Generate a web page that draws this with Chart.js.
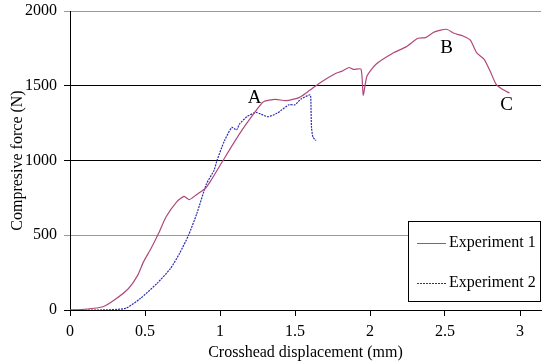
<!DOCTYPE html>
<html>
<head>
<meta charset="utf-8">
<script src="https://cdn.jsdelivr.net/npm/chart.js@4/dist/chart.umd.min.js"></script>
<style>
  html, body { margin: 0; padding: 0; background: #fff; }
  #wrap { width: 542px; height: 363px; }
</style>
</head>
<body>
<div id="wrap"><canvas id="forceChart" width="542" height="363"></canvas></div>
<script>
// crosshead displacement (mm) and compressive force (N)
const exp1X = [0, 0.1, 0.22, 0.3, 0.39, 0.45, 0.49, 0.54, 0.59, 0.64, 0.71, 0.76, 0.795, 0.845, 0.9, 0.94,
  1.02, 1.13, 1.24, 1.29, 1.37, 1.44, 1.53, 1.6, 1.67, 1.77, 1.81, 1.86, 1.89, 1.94, 1.955, 1.98,
  2.04, 2.16, 2.24, 2.32, 2.37, 2.43, 2.51, 2.56, 2.62, 2.67, 2.71, 2.76, 2.8, 2.84, 2.88, 2.93];
const exp1Y = [0, 5, 22, 70, 144, 230, 322, 411, 511, 622, 722, 760, 738, 773, 811, 867,
  1000, 1178, 1333, 1393, 1409, 1400, 1422, 1471, 1522, 1582, 1596, 1622, 1609, 1611, 1438, 1565,
  1644, 1722, 1760, 1818, 1822, 1860, 1878, 1851, 1833, 1804, 1722, 1678, 1600, 1511, 1478, 1451];

const exp2X = [0, 0.2, 0.37, 0.47, 0.58, 0.67, 0.73, 0.79, 0.845, 0.91, 0.96, 0.98, 1.03, 1.08, 1.11,
  1.13, 1.18, 1.24, 1.27, 1.32, 1.38, 1.46, 1.5, 1.54, 1.6, 1.605, 1.61, 1.62, 1.64];
const exp2Y = [0, 0, 11, 78, 178, 278, 378, 500, 644, 844, 933, 1000, 1133, 1222, 1204,
  1244, 1293, 1322, 1311, 1293, 1316, 1373, 1373, 1411, 1440, 1422, 1222, 1156, 1133];

const seriesNames = ['Experiment 1', 'Experiment 2'];
const xTicks = [0, 0.5, 1, 1.5, 2, 2.5, 3];
const yTicks = [0, 500, 1000, 1500, 2000];
const pointLabels = [
  { text: 'A', x: 1.23, y: 1420 },
  { text: 'B', x: 2.51, y: 1755 },
  { text: 'C', x: 2.91, y: 1370 }
];

const RED = '#b0487a';
const BLUE = '#2c2cb0';
const SERIF = '"Liberation Serif", "Times New Roman", serif';

const toPoints = (xs, ys) => xs.map((x, i) => ({ x: x, y: ys[i] }));

// A, B, C labels + legend box inside the plot
const overlay = {
  id: 'overlay',
  afterDatasetsDraw(chart) {
    const ctx = chart.ctx;
    const xs = chart.scales.x, ys = chart.scales.y;
    ctx.save();
    ctx.fillStyle = '#000';
    ctx.font = '19px ' + SERIF;
    ctx.textAlign = 'center';
    ctx.textBaseline = 'middle';
    pointLabels.forEach(p => {
      ctx.fillText(p.text, xs.getPixelForValue(p.x), ys.getPixelForValue(p.y));
    });

    // legend
    const bx = 408, by = 221, bw = 133, bh = 81;
    ctx.fillStyle = '#fff';
    ctx.fillRect(bx, by, bw, bh);
    ctx.strokeStyle = '#000';
    ctx.lineWidth = 1;
    ctx.strokeRect(bx + 0.5, by + 0.5, bw - 1, bh - 1);
    ctx.font = '16px ' + SERIF;
    ctx.textAlign = 'left';
    const rows = [243, 283];
    const cols = [RED, BLUE];
    rows.forEach((ry, i) => {
      ctx.strokeStyle = cols[i];
      ctx.setLineDash(i === 1 ? [2, 1] : []);
      ctx.beginPath();
      ctx.moveTo(417, ry + 0.5);
      ctx.lineTo(446, ry + 0.5);
      ctx.stroke();
      ctx.setLineDash([]);
      ctx.fillStyle = '#000';
      ctx.fillText(seriesNames[i], 449, ry);
    });
    ctx.restore();
  }
};

new Chart(document.getElementById('forceChart').getContext('2d'), {
  type: 'line',
  data: {
    datasets: [
      {
        label: seriesNames[0],
        data: toPoints(exp1X, exp1Y),
        borderColor: RED,
        borderWidth: 1.2,
        pointRadius: 0,
        fill: false,
        tension: 0.2
      },
      {
        label: seriesNames[1],
        data: toPoints(exp2X, exp2Y),
        borderColor: BLUE,
        borderWidth: 1.2,
        borderDash: [2, 1],
        pointRadius: 0,
        fill: false,
        tension: 0.2
      }
    ]
  },
  options: {
    responsive: false,
    animation: false,
    layout: { padding: { top: 10, right: 1, left: 0, bottom: 0 } },
    plugins: {
      legend: { display: false },
      tooltip: { enabled: false }
    },
    scales: {
      x: {
        type: 'linear',
        min: 0,
        max: 3.14,
        afterFit: s => { s.height = 53; },
        afterBuildTicks: s => { s.ticks = xTicks.map(v => ({ value: v })); },
        border: { color: '#000', width: 1 },
        grid: { drawOnChartArea: false, color: '#000', tickLength: 6 },
        ticks: {
          padding: 6,
          autoSkip: false,
          color: '#000',
          font: { family: SERIF, size: 16 },
          maxRotation: 0,
          callback: v => String(v)
        },
        title: {
          display: true,
          text: 'Crosshead displacement (mm)',
          color: '#000',
          font: { family: SERIF, size: 16 },
          padding: { top: 0, bottom: 1 }
        }
      },
      y: {
        min: 0,
        max: 2000,
        afterFit: s => { s.width = 70; },
        afterBuildTicks: s => { s.ticks = yTicks.map(v => ({ value: v })); },
        border: { color: '#000', width: 1 },
        grid: {
          color: c => (c.tick && (c.tick.value === 1000 || c.tick.value === 1500 || c.tick.value === 0)) ? '#000' : '#999',
          tickLength: 6
        },
        ticks: {
          padding: 7,
          color: '#000',
          font: { family: SERIF, size: 16, lineHeight: 0.5 },
          callback: v => String(v)
        },
        title: {
          display: true,
          text: 'Compresive force (N)',
          color: '#000',
          font: { family: SERIF, size: 16 },
          padding: { top: 8, bottom: 0 }
        }
      }
    }
  },
  plugins: [overlay]
});
</script>
</body>
</html>
